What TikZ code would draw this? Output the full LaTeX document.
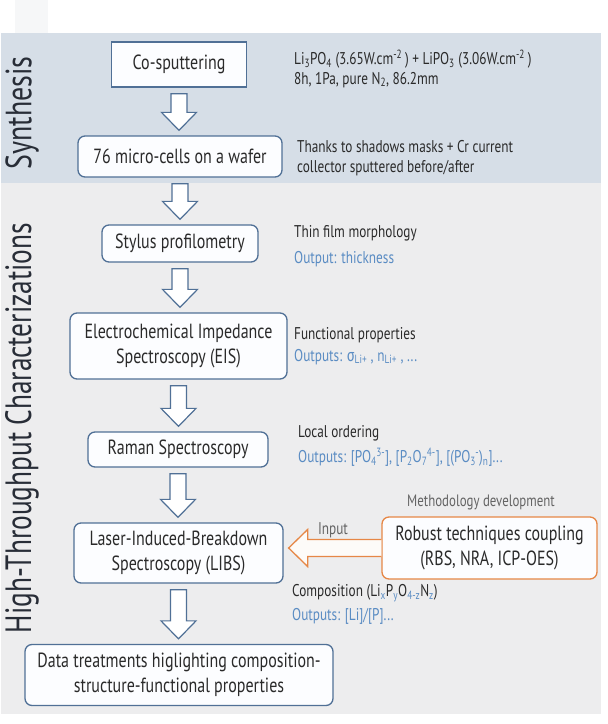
\documentclass[tikz,border=0pt]{standalone}
\usepackage{fontspec}
\usepackage{graphicx}
\usetikzlibrary{calc}
\setmainfont{PT Sans}[FakeStretch=0.78]
\newfontfamily\grk{Fira Sans}[FakeStretch=0.78]
\definecolor{synthbg}{RGB}{214,222,231}
\definecolor{htbg}{RGB}{237,237,238}
\definecolor{faintc}{RGB}{246,247,248}
\definecolor{boxc}{RGB}{80,112,150}
\definecolor{boxfill}{RGB}{252,253,255}
\definecolor{textc}{RGB}{42,42,42}
\definecolor{titlec}{RGB}{40,45,55}
\definecolor{bluet}{RGB}{90,140,195}
\definecolor{greyt}{RGB}{100,100,100}
\definecolor{orangec}{RGB}{230,135,70}
\definecolor{orangefill}{RGB}{253,251,248}
\newcommand\sbsp[2]{\textsubscript{#1}\kern-0.5pt\textsuperscript{#2}}
\newcommand\bsub[1]{\textsubscript{\color{bluet}#1}}
\tikzset{
  box/.style={draw=boxc, line width=1.3pt, fill=boxfill, rounded corners=7pt,
    align=center, text=textc, font=\fontsize{20.5}{25}\selectfont, inner sep=0pt},
  anno/.style={anchor=west, inner sep=0pt, text=textc, font=\fontsize{17}{20}\selectfont},
  outp/.style={anno, text=bluet},
  flowarrow/.style={draw=boxc, fill=white, line width=1.2pt, line join=miter},
  inarrow/.style={draw=orangec, fill=orangefill, line width=1.3pt, line join=miter},
  titletext/.style={rotate=90, text=titlec, inner sep=0pt}
}
\newcommand\dnarrow[2]{%
  \path[flowarrow] let \p1=(#1.south), \p2=(#2.north) in
    ({\x1-8pt},{\y1-6pt}) -- ({\x1+8pt},{\y1-6pt}) -- ({\x1+8pt},{\y2+23pt})
    -- ({\x1+17.5pt},{\y2+23pt}) -- ({\x1},{\y2+5pt}) -- ({\x1-17.5pt},{\y2+23pt})
    -- ({\x1-8pt},{\y2+23pt}) -- cycle;}
\begin{document}
\begin{tikzpicture}[x=1pt,y=-1pt]
\useasboundingbox (0,0) rectangle (608,724);
% backgrounds
\fill[faintc] (15,0) rectangle (48,33);
\fill[synthbg] (1,33) rectangle (601,183);
\fill[htbg] (1,183) rectangle (601,714);
% titles
\node[titletext] (tsyn) at (22,113) {\resizebox{113pt}{26pt}{Synthesis}};
\node[titletext] (tht) at (22,428) {\resizebox{410pt}{26pt}{High-Throughput Characterizations}};
% flow boxes
\node[box, rounded corners=0pt, minimum width=135pt, minimum height=45pt] (cosp) at (179,64.5) {Co-sputtering};
\node[box, minimum width=204pt, minimum height=41pt] (cells) at (180,156.5) {76 micro-cells on a wafer};
\node[box, minimum width=156pt, minimum height=37pt] (stylus) at (180,243.5) {Stylus profilometry};
\node[box, minimum width=217pt, minimum height=66pt] (eis) at (178.5,346) {Electrochemical Impedance\\Spectroscopy (EIS)};
\node[box, minimum width=180pt, minimum height=35pt] (raman) at (178,449.5) {Raman Spectroscopy};
\node[box, minimum width=209pt, minimum height=60pt] (libs) at (178.5,553) {Laser-Induced-Breakdown\\Spectroscopy (LIBS)};
\node[box, minimum width=308pt, minimum height=61pt] (data) at (179,675) {Data treatments higlighting composition-\\structure-functional properties};
\node[box, draw=orangec, minimum width=215pt, minimum height=62pt] (robust) at (489.5,548) {Robust techniques coupling\\(RBS, NRA, ICP-OES)};
% arrows
\dnarrow{cosp}{cells}
\dnarrow{cells}{stylus}
\dnarrow{stylus}{eis}
\dnarrow{eis}{raman}
\dnarrow{raman}{libs}
\dnarrow{libs}{data}
\path[inarrow] let \p1=(robust.west), \p2=(libs.east) in
  ({\x1},{\y1+8.5pt}) -- ({\x2+24pt},{\y1+8.5pt}) -- ({\x2+24pt},{\y1+18.5pt})
  -- ({\x2+5pt},{\y1}) -- ({\x2+24pt},{\y1-18.5pt}) -- ({\x2+24pt},{\y1-8.5pt})
  -- ({\x1},{\y1-8.5pt});
\node[anno, anchor=center, text=greyt] (input) at (333,530) {Input};
\node[anno, anchor=center, text=greyt, font=\fontsize{16.5}{20}\selectfont] (method) at (481,502) {Methodology development};
% annotations
\node[anno] (a1) at (294,59) {Li\textsubscript{3}PO\textsubscript{4} (3.65W.cm\textsuperscript{-2}\,) + LiPO\textsubscript{3} (3.06W.cm\textsuperscript{-2}\,)};
\node[anno] (a2) at (294,80) {8h, 1Pa, pure N\textsubscript{2}, 86.2mm};
\node[anno] (b1) at (297,147) {Thanks to shadows masks + Cr current};
\node[anno] (b2) at (297,168) {collector sputtered before/after};
\node[anno] (c1) at (294,233) {Thin film morphology};
\node[outp] (c2) at (294,259) {Output: thickness};
\node[anno] (d1) at (294,335) {Functional properties};
\node[outp] (d2) at (294,357) {Outputs: {\grk σ}\textsubscript{Li+} , n\textsubscript{Li+} , ...};
\node[anno] (e1) at (298,433) {Local ordering};
\node[outp] (e2) at (298,457) {Outputs: [PO\sbsp{4}{3-}], [P\textsubscript{2}O\sbsp{7}{4-}], [(PO\sbsp{3}{-})\textsubscript{n}]...};
\node[anno] (f1) at (292,593) {Composition (Li\bsub{x}P\bsub{y}O\bsub{4-z}N\bsub{z})};
\node[outp] (f2) at (292,616) {Outputs: [Li]/[P]...};
\end{tikzpicture}
\end{document}
